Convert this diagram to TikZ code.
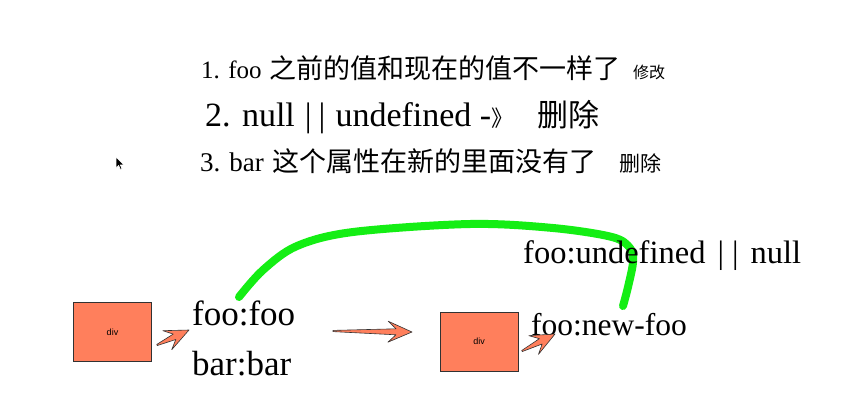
\documentclass[tikz,border=0pt]{standalone}
\usepackage{fontspec}
\setmainfont{Liberation Serif}
\newfontfamily\cjk{Noto Sans CJK SC}
\newfontfamily\sansf{Liberation Sans}
\usetikzlibrary{calc}
\definecolor{salmon}{RGB}{255,127,92}
\definecolor{penline}{RGB}{50,50,50}
\definecolor{marker}{RGB}{20,238,20}
\newcommand\fs[1]{\fontsize{#1}{#1}\selectfont}
\newcommand\bars[2]{\hspace{#1}|\hspace{#2}|\hspace{#1}}
% sketch-style arrow: #1 tail, #2 tip
\newcommand\skarrow[2]{%
  \filldraw[fill=salmon, draw=penline, line width=0.6pt, line join=round]
    ($(#1)!0.6pt!-90:(#2)$) --
    ($(#2)!16pt!(#1)!3pt!90:(#1)$) --
    ($(#2)!24pt!(#1)!10.5pt!90:(#1)$) --
    (#2) --
    ($(#2)!24pt!(#1)!10.5pt!-90:(#1)$) --
    ($(#2)!16pt!(#1)!3pt!-90:(#1)$) --
    ($(#1)!0.6pt!90:(#2)$) -- cycle;}
\begin{document}
\begin{tikzpicture}[x=1pt,y=-1pt,
  txt/.style={anchor=base west, inner sep=0pt, text=black},
  divbox/.style={draw=penline, fill=salmon, line width=0.8pt,
    minimum width=78pt, minimum height=59pt, inner sep=0pt, font=\sansf\fs{9}},
  markerpen/.style={marker, line width=8pt, line cap=round, line join=round}]
\useasboundingbox[fill=white] (0,0) rectangle (848,407);

% heading lines
\node[txt] (l1a) at (201,78) {\fs{25}1. foo};
\node[txt] (l1b) at (269,78) {\cjk\fs{27}之前的值和现在的值不一样了};
\node[txt] (l1c) at (633,78) {\cjk\fs{16}修改};
\node[txt] (l2a) at (205,126) {\fs{34}2. null\bars{10pt}{7pt}undefined -{\cjk\fs{22}》}};
\node[txt] (l2b) at (537,126) {\cjk\fs{31}删除};
\node[txt] (l3a) at (200,171) {\fs{27}3. bar};
\node[txt] (l3b) at (272,171) {\cjk\fs{27}这个属性在新的里面没有了};
\node[txt] (l3c) at (619,171) {\cjk\fs{21}删除};

% mouse cursor
\coordinate (cur) at (116,157);
\filldraw[fill=black, draw=white, line width=0.6pt, line join=round]
  (cur) -- ++(0,11) -- ++(2.6,-2.6) -- ++(1.8,4) -- ++(1.6,-0.7)
  -- ++(-1.8,-3.9) -- ++(3.6,0) -- cycle;

% green marker stroke
\coordinate (g0) at (239,297);
\coordinate (g1) at (623,306);
\draw[markerpen] plot[smooth, tension=0.55] coordinates
  {(g0) (263,270) (297,246) (353,232) (470,224) (553,228) (612,237)
   (630,248) (633,262) (628,287) (g1)};

% boxes
\node[divbox] (box1) at (112.5,332) {div};
\node[divbox] (box2) at (479,341.5) {div};

% labels
\node[txt] (ff) at (192,325) {\fs{35}foo:foo};
\node[txt] (bb) at (192,375) {\fs{35}bar:bar};
\node[txt] (fnf) at (531,335) {\fs{31.5}foo:new-foo};
\node[txt] (fun) at (523,263) {\fs{32.5}foo:undefined\bars{12pt}{8pt}null};

% sketch arrows
\coordinate (a1t) at (157,345);
\coordinate (a1h) at (189,330);
\coordinate (a2t) at (333,331);
\coordinate (a2h) at (412,332);
\coordinate (a3t) at (522,351);
\coordinate (a3h) at (555,334);
\skarrow{a1t}{a1h}
\skarrow{a2t}{a2h}
\skarrow{a3t}{a3h}
\end{tikzpicture}
\end{document}
